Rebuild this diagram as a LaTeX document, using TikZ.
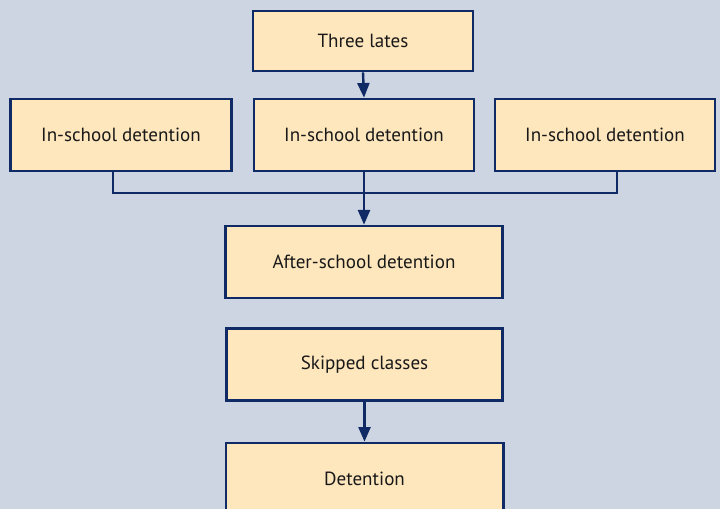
\documentclass[tikz,border=0pt]{standalone}
\usepackage{fontspec}
\setmainfont{PT Sans}
\usetikzlibrary{arrows.meta}
\definecolor{bgblue}{RGB}{205,213,226}
\definecolor{boxfill}{RGB}{254,230,189}
\definecolor{navy}{RGB}{16,42,102}
\tikzset{every picture/.style={line width=0.75pt}}
\tikzset{
  stagebox/.style={draw=navy, fill=boxfill, line width=2pt, text=black!90,
    minimum height=54pt, font=\fontsize{14.3}{16}\selectfont},
  flowline/.style={draw=navy, line width=1.8pt},
  flowarrow/.style={flowline, -{Triangle[length=11pt,width=9pt]}}
}

\begin{document}
\begin{tikzpicture}[x=0.75pt,y=0.75pt,yscale=-1,xscale=1]
%\path (0,509); %set diagram left start at 0, and has height of 509
\useasboundingbox[fill=bgblue] (0,0) rectangle (720,509);

%Shape: Rectangle [id:late] 
\node [stagebox, minimum width=165pt, minimum height=45pt] (late) at (363,41) {Three lates};
%Shape: Rectangle [id:isdleft] 
\node [stagebox, minimum width=166pt] (isdleft) at (121,135) {In-school detention};
%Shape: Rectangle [id:isdmid] 
\node [stagebox, minimum width=165pt] (isdmid) at (364,135) {In-school detention};
%Shape: Rectangle [id:isdright] 
\node [stagebox, minimum width=165pt] (isdright) at (605,135) {In-school detention};
%Shape: Rectangle [id:after] 
\node [stagebox, minimum width=208pt] (after) at (364,262) {After-school detention};
%Shape: Rectangle [id:skipped] 
\node [stagebox, minimum width=207pt] (skipped) at (364.5,364.5) {Skipped classes};
%Shape: Rectangle [id:det] 
\node [stagebox, minimum width=208pt] (det) at (364.5,479) {Detention};

%Straight Lines [id:join] 
\coordinate (join) at (364,193);
\draw [flowline] ([xshift=-6pt]isdleft.south) |- (join) -| ([xshift=9pt]isdright.south);

%Straight Lines [id:arrows] 
\draw [flowarrow] (late.south) -- (isdmid.north);
\draw [flowarrow] (isdmid.south) -- (after.north);
\draw [flowarrow] (skipped.south) -- (det.north);
\end{tikzpicture}
\end{document}
